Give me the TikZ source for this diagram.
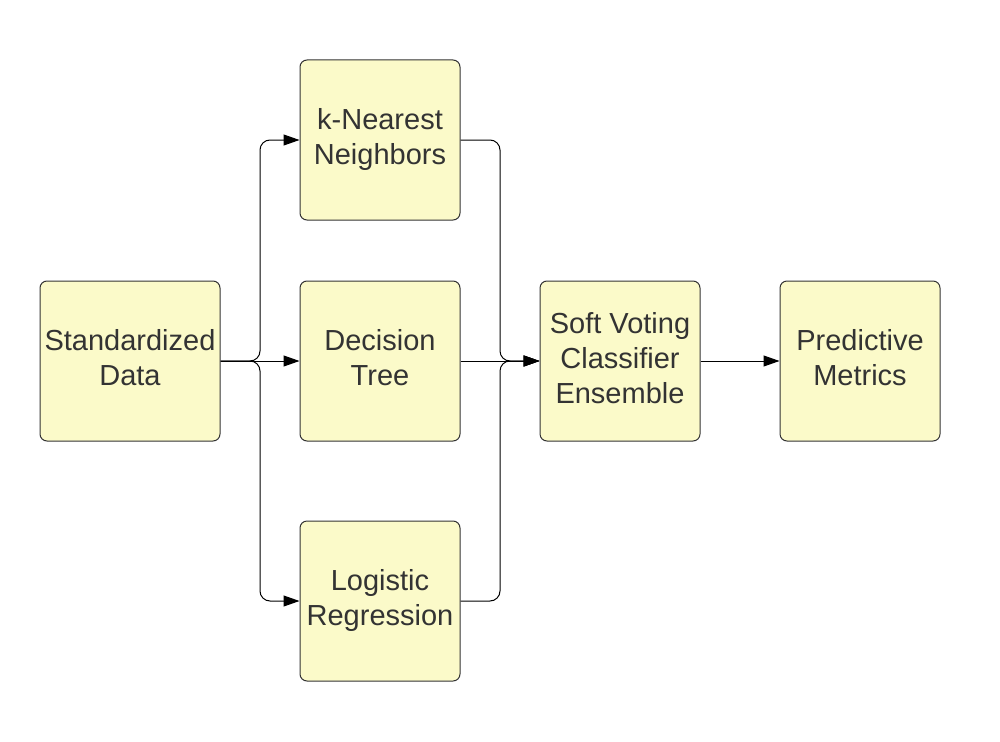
\documentclass[tikz,border=0pt]{standalone}
\usepackage{fontspec}
\setmainfont{Liberation Sans}
\usetikzlibrary{arrows.meta}
\definecolor{boxfill}{HTML}{FBFAC9}
\definecolor{boxline}{HTML}{333333}
\definecolor{txt}{HTML}{333333}
\newcommand{\blklines}[1]{\raisebox{3.5pt}{\begin{tabular}{@{}c@{}}#1\end{tabular}}}
\begin{document}
\begin{tikzpicture}[x=1pt,y=-1pt,
  blk/.style={draw=boxline, fill=boxfill, line width=1pt, rounded corners=7pt,
    minimum width=160pt, minimum height=160pt, inner sep=0pt, align=center,
    text=txt, font=\fontsize{29}{35}\selectfont},
  conn/.style={line width=1pt, draw=black, rounded corners=10pt},
  arr/.style={conn, -{Triangle[length=16pt,width=11pt]}}]
\useasboundingbox (0,0) rectangle (1000,741);
\node[blk, minimum width=180pt] (sd) at (130,361) {\blklines{Standardized\\Data}};
\node[blk] (knn) at (380,140) {\blklines{k-Nearest\\Neighbors}};
\node[blk] (dt) at (380,361) {\blklines{Decision\\Tree}};
\node[blk] (lr) at (380,601) {\blklines{Logistic\\Regression}};
\node[blk] (sv) at (620,361) {\blklines{Soft Voting\\Classifier\\Ensemble}};
\node[blk] (pm) at (860,361) {\blklines{Predictive\\Metrics}};
\coordinate (sj) at (260,361);
\coordinate (ej) at (500,361);
\draw[arr] (sd.east) -- (sj) |- (knn.west);
\draw[arr] (sd.east) -- (sj) |- (lr.west);
\draw[arr] (sd.east) -- (dt.west);
\draw[arr] (knn.east) -| (ej) -- (sv.west);
\draw[arr] (lr.east) -| (ej) -- (sv.west);
\draw[arr] (dt.east) -- (sv.west);
\draw[arr] (sv.east) -- (pm.west);
\end{tikzpicture}
\end{document}
